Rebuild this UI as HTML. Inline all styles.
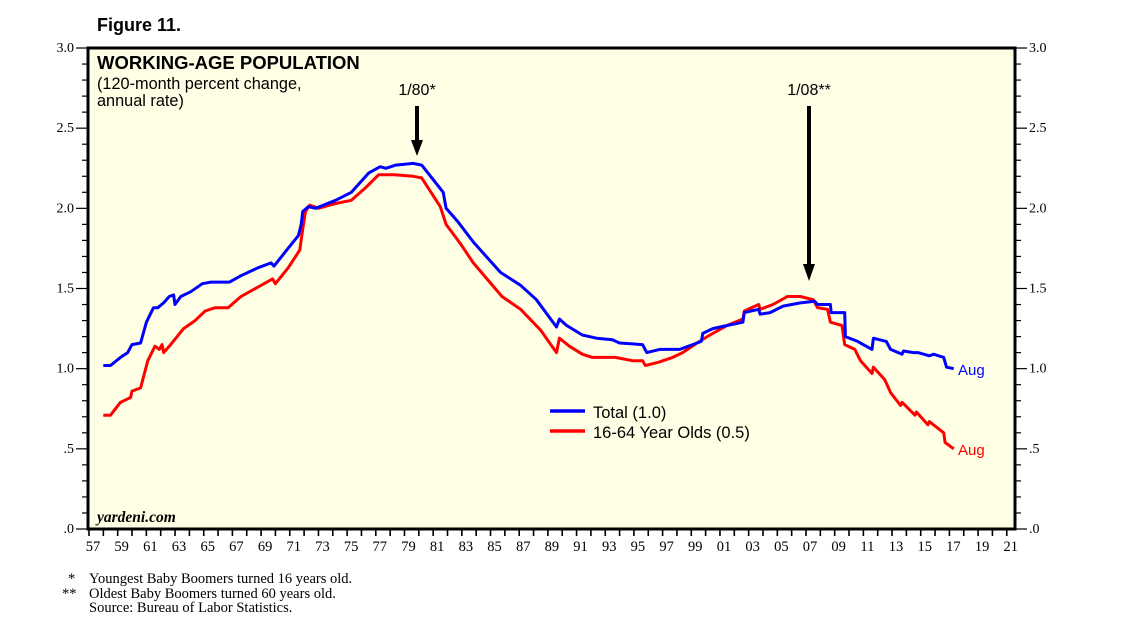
<!DOCTYPE html>
<html><head><meta charset="utf-8"><style>
body{margin:0;background:#fff;width:1138px;height:630px;overflow:hidden}
svg{display:block}
</style></head><body>
<svg id="c" width="1138" height="630" xmlns="http://www.w3.org/2000/svg">
<text x="97" y="31" font-family="Liberation Sans, sans-serif" font-weight="bold" font-size="18">Figure 11.</text>
<rect x="88" y="48" width="927" height="481" fill="#ffffe5"/>
<g id="grid"></g>
<g id="series"></g>
<rect x="88" y="48" width="927" height="481" fill="none" stroke="#000" stroke-width="3"/>
<text x="97" y="69" font-family="Liberation Sans, sans-serif" font-weight="bold" font-size="18.5">WORKING-AGE POPULATION</text>
<text x="97" y="89" font-family="Liberation Sans, sans-serif" font-size="16.3">(120-month percent change,</text>
<text x="97" y="106" font-family="Liberation Sans, sans-serif" font-size="16.3">annual rate)</text>
<text x="417" y="95" text-anchor="middle" font-family="Liberation Sans, sans-serif" font-size="16">1/80*</text>
<text x="809" y="95" text-anchor="middle" font-family="Liberation Sans, sans-serif" font-size="16">1/08**</text>
<line x1="417" y1="106" x2="417" y2="142" stroke="#000" stroke-width="4"/>
<polygon points="411,140 423,140 417,156" fill="#000"/>
<line x1="809" y1="106" x2="809" y2="266" stroke="#000" stroke-width="4"/>
<polygon points="803,264 815,264 809,281" fill="#000"/>
<line x1="550" y1="411" x2="585" y2="411" stroke="#0000ff" stroke-width="3.5"/>
<text x="593" y="418" font-family="Liberation Sans, sans-serif" font-size="16.5">Total (1.0)</text>
<line x1="550" y1="431" x2="585" y2="431" stroke="#ff0000" stroke-width="3.5"/>
<text x="593" y="438" font-family="Liberation Sans, sans-serif" font-size="16.5">16-64 Year Olds (0.5)</text>
<text x="958" y="375" fill="#0000ff" font-family="Liberation Sans, sans-serif" font-size="15">Aug</text>
<text x="958" y="455" fill="#ff0000" font-family="Liberation Sans, sans-serif" font-size="15">Aug</text>
<text x="97" y="522" font-family="Liberation Serif, serif" font-style="italic" font-weight="bold" font-size="15.5">yardeni.com</text>
<g font-family="Liberation Serif, serif" font-size="14.5">
<text x="68" y="583">*</text>
<text x="89" y="583">Youngest Baby Boomers turned 16 years old.</text>
<text x="62" y="598">**</text>
<text x="89" y="598">Oldest Baby Boomers turned 60 years old.</text>
<text x="89" y="612">Source: Bureau of Labor Statistics.</text>
</g>
</svg>
<script>
const totalYears=[1958.0,1958.5,1959.2,1959.7,1960.0,1960.6,1961.0,1961.5,1961.8,1962.2,1962.6,1962.9,1963.0,1963.4,1964.1,1964.9,1965.5,1966.8,1967.6,1968.8,1969.7,1969.9,1970.7,1971.6,1971.8,1971.9,1972.3,1972.8,1974.2,1975.3,1976.5,1977.3,1977.7,1978.4,1979.6,1980.2,1981.7,1981.9,1982.7,1983.8,1985.7,1987.1,1988.2,1989.6,1989.8,1990.3,1991.4,1992.4,1993.5,1994.0,1995.6,1995.9,1996.8,1998.2,1999.4,1999.7,1999.8,2000.5,2001.0,2002.6,2002.7,2003.7,2003.8,2004.5,2005.4,2006.6,2007.6,2007.8,2008.7,2008.75,2009.7,2009.75,2010.6,2011.6,2011.7,2012.6,2012.9,2013.7,2013.8,2014.5,2014.8,2015.6,2015.9,2016.6,2016.8,2017.3];
const totalValues=[1.02,1.02,1.07,1.10,1.15,1.16,1.29,1.38,1.38,1.41,1.45,1.46,1.40,1.45,1.48,1.53,1.54,1.54,1.58,1.63,1.66,1.64,1.73,1.83,1.90,1.98,2.01,2.00,2.05,2.10,2.22,2.26,2.25,2.27,2.28,2.27,2.10,2.00,1.92,1.79,1.60,1.52,1.43,1.26,1.31,1.27,1.21,1.19,1.18,1.16,1.15,1.10,1.12,1.12,1.16,1.17,1.22,1.25,1.26,1.29,1.35,1.37,1.34,1.35,1.39,1.41,1.42,1.40,1.40,1.35,1.35,1.20,1.17,1.12,1.19,1.17,1.12,1.09,1.11,1.10,1.10,1.08,1.09,1.07,1.01,1.00];
const youngYears=[1958.0,1958.5,1959.2,1959.9,1960.0,1960.6,1961.1,1961.6,1961.9,1962.1,1962.2,1962.7,1963.6,1964.4,1965.1,1965.8,1966.7,1967.6,1968.8,1969.8,1970.0,1970.9,1971.7,1971.9,1972.1,1972.4,1973.0,1974.2,1975.3,1976.3,1977.2,1978.3,1979.6,1980.2,1981.5,1981.9,1982.9,1983.8,1985.8,1987.1,1988.5,1989.6,1989.8,1990.5,1991.4,1992.1,1993.7,1994.9,1995.6,1995.8,1996.7,1997.7,1998.4,1999.4,2000.3,2001.5,2002.6,2002.7,2003.7,2003.8,2004.7,2005.7,2006.6,2007.5,2007.8,2008.5,2008.7,2009.5,2009.7,2010.4,2010.8,2011.6,2011.7,2012.5,2012.9,2013.6,2013.7,2014.6,2014.7,2015.5,2015.6,2016.6,2016.7,2017.3];
const youngValues=[0.71,0.71,0.79,0.82,0.86,0.88,1.05,1.14,1.12,1.15,1.10,1.15,1.25,1.30,1.36,1.38,1.38,1.45,1.51,1.56,1.53,1.63,1.74,1.87,1.98,2.02,2.00,2.03,2.05,2.13,2.21,2.21,2.20,2.19,2.01,1.90,1.78,1.66,1.45,1.37,1.24,1.10,1.19,1.14,1.09,1.07,1.07,1.05,1.05,1.02,1.04,1.07,1.10,1.16,1.21,1.27,1.31,1.36,1.40,1.37,1.40,1.45,1.45,1.43,1.38,1.37,1.29,1.27,1.15,1.12,1.05,0.97,1.01,0.93,0.85,0.77,0.79,0.71,0.73,0.65,0.67,0.60,0.54,0.50];
const yTickValues=[0,0.5,1.0,1.5,2.0,2.5,3.0];
const yTickLabels=[".0",".5","1.0","1.5","2.0","2.5","3.0"];
const xYearStart=1957, xYearEnd=2021;

const NS="http://www.w3.org/2000/svg";
const X0=89, PXY=14.34, Y0=529, PXV=160.33;
const xs=y=>X0+(y-1957)*PXY;
const ys=v=>Y0-v*PXV;
const svg=document.getElementById('c');
const grid=document.getElementById('grid');
function mk(tag,attrs,parent){const e=document.createElementNS(NS,tag);for(const k in attrs)e.setAttribute(k,attrs[k]);(parent||svg).appendChild(e);return e;}
for(let i=0;i<=30;i++){
  const v=i/10,y=ys(v),major=i%5===0;
  const l=mk('line',{x1:major?76:82,y1:y,x2:88,y2:y,stroke:'#000','stroke-width':1.2},grid);
  
  
  const r=mk('line',{x1:1015,y1:y,x2:major?1027:1021,y2:y,stroke:'#000','stroke-width':1.2},grid);
  
  
}
yTickValues.forEach((v,i)=>{
  const t=mk('text',{x:74,y:ys(v)+4,'text-anchor':'end','font-family':'Liberation Serif, serif','font-size':14});
  t.textContent=yTickLabels[i];
  
  
  const t2=mk('text',{x:1029,y:ys(v)+4,'font-family':'Liberation Serif, serif','font-size':14});
  t2.textContent=yTickLabels[i];
  
  
});
for(let yr=xYearStart;yr<=xYearEnd;yr++){
  const x=xs(yr);
  const t=mk('line',{x1:x,y1:529,x2:x,y2:536,stroke:'#000','stroke-width':1.6},grid);
  
  
  if((yr-xYearStart)%2===0){
    const lb=mk('text',{x:x+4,y:551,'text-anchor':'middle','font-family':'Liberation Serif, serif','font-size':14.5});
    lb.textContent=String(yr%100).padStart(2,'0');
    
    
  }
}
const series=document.getElementById('series');
function draw(xsArr,vals,color,name){
  const d=xsArr.map((y,i)=>(i?'L':'M')+xs(y).toFixed(1)+','+ys(vals[i]).toFixed(1)).join('');
  const p=mk('path',{d:d,fill:'none',stroke:color,'stroke-width':3,'stroke-linejoin':'round'},series);
  
  
}
draw(youngYears,youngValues,'#ff0000','line-16-64');
draw(totalYears,totalValues,'#0000ff','line-total');
</script>
</body></html>
